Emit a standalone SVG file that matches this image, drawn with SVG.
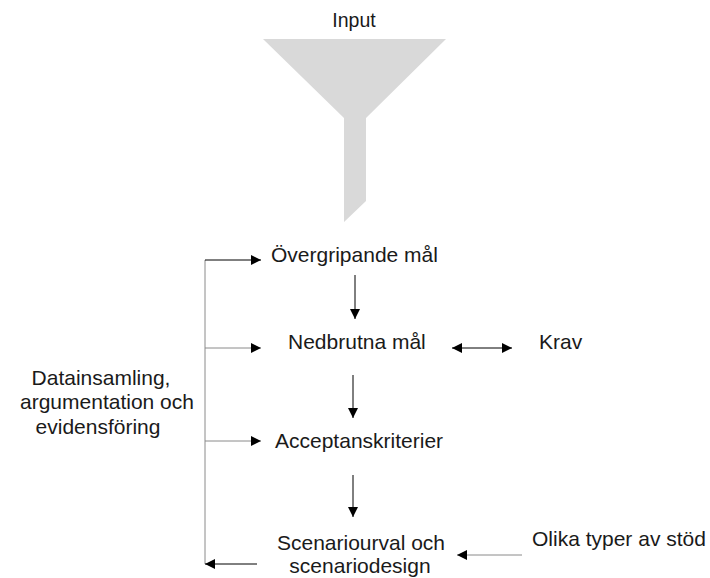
<svg xmlns="http://www.w3.org/2000/svg" width="710" height="578" viewBox="0 0 710 578">
  <style>
    text { font-family: "Liberation Sans", Arial, sans-serif; font-size: 21px; fill: #1a1a1a; }
    .ln { stroke: #000; stroke-width: 1; fill: none; }
    .gl { stroke: #8a8a8a; stroke-width: 1; fill: none; }
  </style>
  <defs>
    <marker id="arr" viewBox="0 0 10 10" refX="10" refY="5" markerWidth="10" markerHeight="10" markerUnits="userSpaceOnUse" orient="auto-start-reverse">
      <path d="M0,0 L10,5 L0,10 Z" fill="#000"/>
    </marker>
  </defs>

  <!-- funnel -->
  <g id="funnel">
    <text x="354" y="27" text-anchor="middle" style="font-size:19.5px">Input</text>
    <path d="M263,39 L446,39 L366,118 L366,201 L344,222 L344,118 Z" fill="#d9d9d9"/>
  </g>

  <g id="overgripande"><text x="271" y="262">Övergripande mål</text></g>
  <g id="nedbrutna"><text x="288" y="349">Nedbrutna mål</text></g>
  <g id="krav"><text x="539" y="349">Krav</text></g>
  <g id="acceptans"><text x="275" y="448">Acceptanskriterier</text></g>
  <g id="scenario">
    <text x="361" y="550" text-anchor="middle">Scenariourval och</text>
    <text x="360" y="573" text-anchor="middle">scenariodesign</text>
  </g>
  <g id="stod"><text x="532" y="546">Olika typer av stöd</text></g>
  <g id="datainsamling">
    <text x="101" y="385" text-anchor="middle">Datainsamling,</text>
    <text x="107" y="409" text-anchor="middle">argumentation och</text>
    <text x="98" y="434" text-anchor="middle">evidensföring</text>
  </g>

  <!-- connectors -->
  <g id="connectors">
    <path class="gl" d="M205,260 L205,564"/>
    <path class="ln" d="M205,260 L261,260" marker-end="url(#arr)"/>
    <path class="gl" d="M205,348 L261,348" marker-end="url(#arr)"/>
    <path class="gl" d="M205,441 L261,441" marker-end="url(#arr)"/>
    <path class="ln" d="M257,564 L205,564" marker-end="url(#arr)"/>
    <path class="ln" d="M355,275 L355,319" marker-end="url(#arr)"/>
    <path class="ln" d="M353,375 L353,418" marker-end="url(#arr)"/>
    <path class="ln" d="M353,475 L353,517" marker-end="url(#arr)"/>
    <path class="ln" d="M452,348 L512,348" marker-start="url(#arr)" marker-end="url(#arr)"/>
    <path class="gl" d="M522,555 L457,555" marker-end="url(#arr)"/>
  </g>
</svg>
